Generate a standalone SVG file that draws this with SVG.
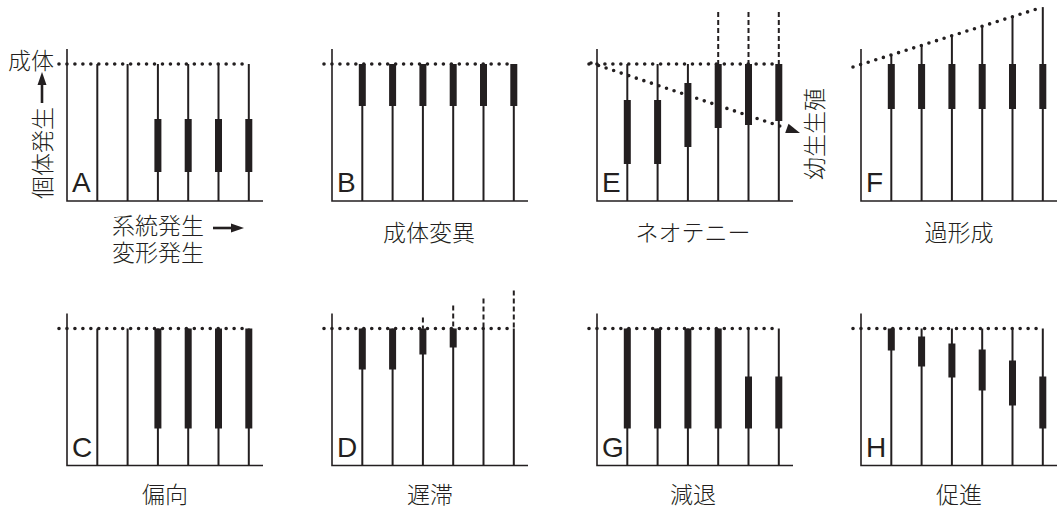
<svg xmlns="http://www.w3.org/2000/svg" width="1057" height="507" viewBox="0 0 1057 507">
<style>
.ax{stroke:#231f20;stroke-width:1.6;fill:none}
.st{stroke:#231f20;stroke-width:2}
.bar{fill:#231f20}
.dot{stroke:#231f20;stroke-width:3.6;stroke-linecap:round;stroke-dasharray:0 7.96;fill:none}
.dash{stroke:#231f20;stroke-width:2;stroke-dasharray:5 3}
.let{font-family:"Liberation Sans",Arial,sans-serif;font-size:28px;fill:#231f20}
.jp{font-family:"Noto Sans CJK JP","Noto Sans CJK SC",sans-serif;font-size:23px;fill:#231f20;font-weight:300}
.tri{fill:#231f20}
</style>
<rect width="1057" height="507" fill="#ffffff"/>

<g id="axis-labels">
<text class="jp" x="54" y="69" text-anchor="end">成体</text>
<text class="jp" transform="translate(50.5,153) rotate(-90)" text-anchor="middle">個体発生</text>
<line class="st" x1="42" y1="103" x2="42" y2="83" style="stroke-width:2.6"/>
<polygon class="tri" points="42,72 37.5,85 46.5,85"/>
<text class="jp" x="112" y="234">系統発生</text>
<line class="st" x1="213" y1="228" x2="233" y2="228" style="stroke-width:2.6"/>
<polygon class="tri" points="244,228 231,223.5 231,232.5"/>
<text class="jp" x="112" y="261">変形発生</text>
</g>

<g id="panel-A" transform="translate(67,0)">
<path class="ax" d="M0,49V201H196"/>
<line class="dot" x1="-8" y1="64" x2="182" y2="64"/>
<line class="st" x1="30.3" y1="64" x2="30.3" y2="201"/>
<line class="st" x1="60.6" y1="64" x2="60.6" y2="201"/>
<line class="st" x1="90.9" y1="64" x2="90.9" y2="201"/>
<line class="st" x1="121.2" y1="64" x2="121.2" y2="201"/>
<line class="st" x1="151.5" y1="64" x2="151.5" y2="201"/>
<line class="st" x1="181.8" y1="64" x2="181.8" y2="201"/>
<rect class="bar" x="87.4" y="119" width="7" height="53"/>
<rect class="bar" x="117.7" y="119" width="7" height="53"/>
<rect class="bar" x="148" y="119" width="7" height="53"/>
<rect class="bar" x="178.3" y="119" width="7" height="53"/>
<text class="let" x="5" y="192">A</text>
</g>

<g id="panel-B" transform="translate(332,0)">
<path class="ax" d="M0,49V201H196"/>
<line class="dot" x1="-8" y1="64" x2="182" y2="64"/>
<line class="st" x1="30.3" y1="64" x2="30.3" y2="201"/>
<line class="st" x1="60.6" y1="64" x2="60.6" y2="201"/>
<line class="st" x1="90.9" y1="64" x2="90.9" y2="201"/>
<line class="st" x1="121.2" y1="64" x2="121.2" y2="201"/>
<line class="st" x1="151.5" y1="64" x2="151.5" y2="201"/>
<line class="st" x1="181.8" y1="64" x2="181.8" y2="201"/>
<rect class="bar" x="26.8" y="64" width="7" height="42"/>
<rect class="bar" x="57.1" y="64" width="7" height="42"/>
<rect class="bar" x="87.4" y="64" width="7" height="42"/>
<rect class="bar" x="117.7" y="64" width="7" height="42"/>
<rect class="bar" x="148" y="64" width="7" height="42"/>
<rect class="bar" x="178.3" y="64" width="7" height="42"/>
<text class="let" x="5" y="192">B</text>
<text class="jp" x="97" y="241" text-anchor="middle">成体変異</text>
</g>

<g id="panel-E" transform="translate(597,0)">
<path class="ax" d="M0,49V201H196"/>
<line class="dot" x1="-8" y1="64" x2="182" y2="64"/>
<line class="dash" x1="121.2" y1="12" x2="121.2" y2="64"/>
<line class="dash" x1="151.5" y1="12" x2="151.5" y2="64"/>
<line class="dash" x1="181.8" y1="12" x2="181.8" y2="64"/>
<line class="st" x1="30.3" y1="64" x2="30.3" y2="201"/>
<line class="st" x1="60.6" y1="64" x2="60.6" y2="201"/>
<line class="st" x1="90.9" y1="64" x2="90.9" y2="201"/>
<line class="st" x1="121.2" y1="64" x2="121.2" y2="201"/>
<line class="st" x1="151.5" y1="64" x2="151.5" y2="201"/>
<line class="st" x1="181.8" y1="64" x2="181.8" y2="201"/>
<rect class="bar" x="26.8" y="100" width="7" height="64"/>
<rect class="bar" x="57.1" y="100" width="7" height="64"/>
<rect class="bar" x="87.4" y="83" width="7" height="64"/>
<rect class="bar" x="117.7" y="64" width="7" height="64"/>
<rect class="bar" x="148" y="64" width="7" height="61"/>
<rect class="bar" x="178.3" y="64" width="7" height="57"/>
<line class="dot" x1="-6" y1="63" x2="189.8" y2="128.4"/>
<polygon class="tri" points="203,133 191.5,123.7 188.2,133.1"/>
<text class="let" x="5" y="192">E</text>
<text class="jp" x="96" y="241" text-anchor="middle">ネオテニー</text>
<text class="jp" transform="translate(225.5,134) rotate(-90)" text-anchor="middle">幼生生殖</text>
</g>

<g id="panel-F" transform="translate(861,0)">
<path class="ax" d="M0,49V201H196"/>
<line class="dot" x1="-8" y1="67" x2="179" y2="8"/>
<line class="st" x1="30.3" y1="54.9" x2="30.3" y2="201"/>
<line class="st" x1="60.6" y1="45.4" x2="60.6" y2="201"/>
<line class="st" x1="90.9" y1="35.8" x2="90.9" y2="201"/>
<line class="st" x1="121.2" y1="26.2" x2="121.2" y2="201"/>
<line class="st" x1="151.5" y1="16.7" x2="151.5" y2="201"/>
<line class="st" x1="181.8" y1="7.1" x2="181.8" y2="201"/>
<rect class="bar" x="26.8" y="64" width="7" height="45"/>
<rect class="bar" x="57.1" y="64" width="7" height="45"/>
<rect class="bar" x="87.4" y="64" width="7" height="45"/>
<rect class="bar" x="117.7" y="64" width="7" height="45"/>
<rect class="bar" x="148" y="64" width="7" height="45"/>
<rect class="bar" x="178.3" y="64" width="7" height="45"/>
<text class="let" x="5" y="192">F</text>
<text class="jp" x="98" y="241" text-anchor="middle">過形成</text>
</g>

<g id="panel-C" transform="translate(67,264.5)">
<path class="ax" d="M0,49V201H196"/>
<line class="dot" x1="-8" y1="64" x2="182" y2="64"/>
<line class="st" x1="30.3" y1="64" x2="30.3" y2="201"/>
<line class="st" x1="60.6" y1="64" x2="60.6" y2="201"/>
<line class="st" x1="90.9" y1="64" x2="90.9" y2="201"/>
<line class="st" x1="121.2" y1="64" x2="121.2" y2="201"/>
<line class="st" x1="151.5" y1="64" x2="151.5" y2="201"/>
<line class="st" x1="181.8" y1="64" x2="181.8" y2="201"/>
<rect class="bar" x="87.4" y="64" width="7" height="100"/>
<rect class="bar" x="117.7" y="64" width="7" height="100"/>
<rect class="bar" x="148" y="64" width="7" height="100"/>
<rect class="bar" x="178.3" y="64" width="7" height="100"/>
<text class="let" x="5" y="192">C</text>
<text class="jp" x="98" y="238.5" text-anchor="middle">偏向</text>
</g>

<g id="panel-D" transform="translate(332,264.5)">
<path class="ax" d="M0,49V201H196"/>
<line class="dot" x1="-8" y1="64" x2="182" y2="64"/>
<line class="dash" x1="90.9" y1="53" x2="90.9" y2="64"/>
<line class="dash" x1="121.2" y1="41" x2="121.2" y2="64"/>
<line class="dash" x1="151.5" y1="34" x2="151.5" y2="64"/>
<line class="dash" x1="181.8" y1="26" x2="181.8" y2="64"/>
<line class="st" x1="30.3" y1="64" x2="30.3" y2="201"/>
<line class="st" x1="60.6" y1="64" x2="60.6" y2="201"/>
<line class="st" x1="90.9" y1="64" x2="90.9" y2="201"/>
<line class="st" x1="121.2" y1="64" x2="121.2" y2="201"/>
<line class="st" x1="151.5" y1="64" x2="151.5" y2="201"/>
<line class="st" x1="181.8" y1="64" x2="181.8" y2="201"/>
<rect class="bar" x="26.8" y="64" width="7" height="41"/>
<rect class="bar" x="57.1" y="64" width="7" height="41"/>
<rect class="bar" x="87.4" y="64" width="7" height="26"/>
<rect class="bar" x="117.7" y="64" width="7" height="19"/>
<text class="let" x="5" y="192">D</text>
<text class="jp" x="98" y="238.5" text-anchor="middle">遅滞</text>
</g>

<g id="panel-G" transform="translate(597,264.5)">
<path class="ax" d="M0,49V201H196"/>
<line class="dot" x1="-8" y1="64" x2="182" y2="64"/>
<line class="st" x1="30.3" y1="64" x2="30.3" y2="201"/>
<line class="st" x1="60.6" y1="64" x2="60.6" y2="201"/>
<line class="st" x1="90.9" y1="64" x2="90.9" y2="201"/>
<line class="st" x1="121.2" y1="64" x2="121.2" y2="201"/>
<line class="st" x1="151.5" y1="64" x2="151.5" y2="201"/>
<line class="st" x1="181.8" y1="64" x2="181.8" y2="201"/>
<rect class="bar" x="26.8" y="64" width="7" height="100"/>
<rect class="bar" x="57.1" y="64" width="7" height="100"/>
<rect class="bar" x="87.4" y="64" width="7" height="100"/>
<rect class="bar" x="117.7" y="64" width="7" height="100"/>
<rect class="bar" x="148" y="112" width="7" height="52"/>
<rect class="bar" x="178.3" y="112" width="7" height="52"/>
<text class="let" x="5" y="192">G</text>
<text class="jp" x="96" y="238.5" text-anchor="middle">減退</text>
</g>

<g id="panel-H" transform="translate(861,264.5)">
<path class="ax" d="M0,49V201H196"/>
<line class="dot" x1="-8" y1="64" x2="182" y2="64"/>
<line class="st" x1="30.3" y1="64" x2="30.3" y2="201"/>
<line class="st" x1="60.6" y1="64" x2="60.6" y2="201"/>
<line class="st" x1="90.9" y1="64" x2="90.9" y2="201"/>
<line class="st" x1="121.2" y1="64" x2="121.2" y2="201"/>
<line class="st" x1="151.5" y1="64" x2="151.5" y2="201"/>
<line class="st" x1="181.8" y1="64" x2="181.8" y2="201"/>
<rect class="bar" x="26.8" y="64" width="7" height="22"/>
<rect class="bar" x="57.1" y="72" width="7" height="30"/>
<rect class="bar" x="87.4" y="79" width="7" height="34"/>
<rect class="bar" x="117.7" y="85" width="7" height="41"/>
<rect class="bar" x="148" y="96" width="7" height="45"/>
<rect class="bar" x="178.3" y="112" width="7" height="52"/>
<text class="let" x="5" y="192">H</text>
<text class="jp" x="98" y="238.5" text-anchor="middle">促進</text>
</g>
</svg>
